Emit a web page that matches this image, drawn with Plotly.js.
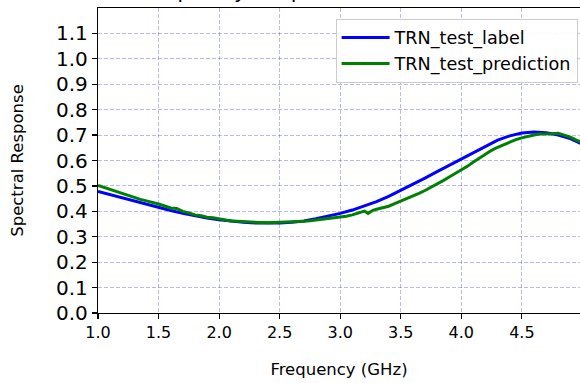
<!DOCTYPE html>
<html>
<head>
<meta charset="utf-8">
<script src="https://cdn.plot.ly/plotly-3.0.1.min.js"></script>
<style>
  html, body { margin: 0; padding: 0; background: #ffffff; }
  #chart { width: 580px; height: 383px; }
</style>
</head>
<body>
<div id="chart"></div>
<script>
// Frequency grid (GHz) for the label curve
const labelFreq = [1.0, 1.1, 1.2, 1.3, 1.4, 1.5, 1.6, 1.7, 1.8, 1.9,
                   2.0, 2.1, 2.2, 2.3, 2.4, 2.5, 2.6, 2.7, 2.8, 2.9,
                   3.0, 3.1, 3.2, 3.3, 3.4, 3.5, 3.6, 3.7, 3.8, 3.9,
                   4.0, 4.1, 4.2, 4.3, 4.4, 4.5, 4.6, 4.7, 4.8, 4.9, 5.0];
const labelValues = [0.478, 0.465, 0.452, 0.440, 0.427, 0.414, 0.403, 0.392, 0.382, 0.374,
                     0.367, 0.361, 0.357, 0.354, 0.353, 0.354, 0.357, 0.362, 0.371, 0.381,
                     0.392, 0.405, 0.420, 0.438, 0.459, 0.482, 0.506, 0.531, 0.556, 0.581,
                     0.606, 0.632, 0.657, 0.680, 0.697, 0.708, 0.712, 0.709, 0.700, 0.686, 0.664];

// Frequency grid (GHz) for the prediction curve
const predFreq = [1.00, 1.05, 1.10, 1.15, 1.20, 1.25, 1.30, 1.35, 1.40, 1.45,
                  1.50, 1.55, 1.60, 1.65, 1.70, 1.75, 1.80, 1.85, 1.90, 1.95,
                  2.00, 2.05, 2.10, 2.15, 2.20, 2.25, 2.30, 2.35, 2.40, 2.45,
                  2.50, 2.55, 2.60, 2.65, 2.70, 2.75, 2.80, 2.85, 2.90, 2.95,
                  3.00, 3.05, 3.10, 3.15, 3.20, 3.23, 3.27, 3.30, 3.35, 3.40,
                  3.45, 3.50, 3.55, 3.60, 3.65, 3.70, 3.75, 3.80, 3.85, 3.90,
                  3.95, 4.00, 4.05, 4.10, 4.15, 4.20, 4.25, 4.30, 4.35, 4.40,
                  4.45, 4.50, 4.55, 4.60, 4.65, 4.70, 4.75, 4.80, 4.85, 4.90,
                  4.95, 5.00];
const predValues = [0.502, 0.494, 0.485, 0.477, 0.470, 0.462, 0.455, 0.447, 0.441, 0.436,
                    0.429, 0.421, 0.413, 0.411, 0.400, 0.394, 0.386, 0.383, 0.377, 0.375,
                    0.370, 0.366, 0.362, 0.361, 0.359, 0.359, 0.357, 0.356, 0.355, 0.356,
                    0.355, 0.357, 0.357, 0.359, 0.361, 0.363, 0.366, 0.369, 0.370, 0.374,
                    0.378, 0.381, 0.386, 0.392, 0.401, 0.392, 0.404, 0.408, 0.414, 0.420,
                    0.430, 0.440, 0.448, 0.460, 0.471, 0.482, 0.494, 0.507, 0.521, 0.535,
                    0.548, 0.562, 0.577, 0.594, 0.610, 0.626, 0.640, 0.652, 0.663, 0.672,
                    0.682, 0.689, 0.695, 0.700, 0.704, 0.704, 0.705, 0.707, 0.700, 0.692,
                    0.680, 0.670];

const xTicks = [1.0, 1.5, 2.0, 2.5, 3.0, 3.5, 4.0, 4.5];
const xTickLabels = ['1.0', '1.5', '2.0', '2.5', '3.0', '3.5', '4.0', '4.5'];
const yTicks = [0.0, 0.1, 0.2, 0.3, 0.4, 0.5, 0.6, 0.7, 0.8, 0.9, 1.0, 1.1];
const yTickLabels = ['0.0', '0.1', '0.2', '0.3', '0.4', '0.5', '0.6', '0.7', '0.8', '0.9', '1.0', '1.1'];

const chartTitle = 'Frequency Response';
const seriesNames = ['TRN_test_label', 'TRN_test_prediction'];

const FONT = 'DejaVu Sans, sans-serif';
const gridColor = 'rgba(60,60,255,0.45)';

const data = [
  {
    x: labelFreq, y: labelValues, type: 'scatter', mode: 'lines',
    name: seriesNames[0], line: { color: '#0000ff', width: 3 }
  },
  {
    x: predFreq, y: predValues, type: 'scatter', mode: 'lines',
    name: seriesNames[1], line: { color: '#008000', width: 3 }
  }
];

const layout = {
  width: 580, height: 383,
  margin: { l: 98, r: 0, t: 8, b: 70, pad: 0 },
  paper_bgcolor: '#ffffff', plot_bgcolor: '#ffffff',
  font: { family: FONT, color: '#000000' },
  showlegend: true,
  legend: {
    x: 0.995, xanchor: 'right', y: 0.965, yanchor: 'top',
    bgcolor: 'rgba(255,255,255,0.9)', bordercolor: '#cccccc', borderwidth: 1,
    font: { family: FONT, size: 17.6, color: '#000000' },
    itemwidth: 48, tracegroupgap: 4
  },
  xaxis: {
    range: [1, 4.98],
    tickmode: 'array', tickvals: xTicks, ticktext: xTickLabels,
    ticks: 'outside', ticklen: 5, tickwidth: 1.2, tickcolor: '#000000',
    tickfont: { family: FONT, size: 16, color: '#000000' },
    showline: true, linecolor: '#000000', linewidth: 1.2, mirror: true,
    showgrid: true, gridcolor: gridColor, gridwidth: 0.8, griddash: '4px,2px',
    zeroline: false,
    title: { text: 'Frequency (GHz)', font: { family: FONT, size: 16.5, color: '#000000' }, standoff: 22 }
  },
  yaxis: {
    range: [0, 1.2],
    tickmode: 'array', tickvals: yTicks, ticktext: yTickLabels,
    ticks: 'outside', ticklen: 5, tickwidth: 1.2, tickcolor: '#000000',
    tickfont: { family: FONT, size: 20, color: '#000000' },
    showline: true, linecolor: '#000000', linewidth: 1.2, mirror: false,
    showgrid: true, gridcolor: gridColor, gridwidth: 0.8, griddash: '4px,2px',
    zeroline: false,
    title: { text: 'Spectral Response', font: { family: FONT, size: 16.5, color: '#000000' }, standoff: 28 }
  },
  annotations: [
    {
      text: chartTitle, xref: 'paper', yref: 'paper',
      x: 0.307, y: 1, xanchor: 'center', yanchor: 'bottom', yshift: 3,
      showarrow: false, font: { family: FONT, size: 21, color: '#000000' }
    }
  ]
};

Plotly.newPlot('chart', data, layout, { displayModeBar: false, staticPlot: true });
</script>
</body>
</html>
